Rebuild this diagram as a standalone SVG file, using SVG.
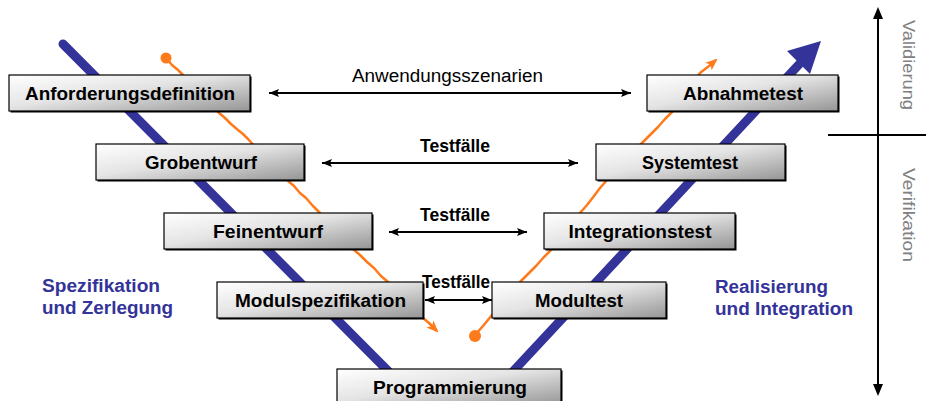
<svg xmlns="http://www.w3.org/2000/svg" width="926" height="401" viewBox="0 0 926 401">
<defs>
<linearGradient id="boxg" x1="0" y1="0" x2="1" y2="1">
<stop offset="0" stop-color="#ffffff"/>
<stop offset="0.45" stop-color="#e4e4e4"/>
<stop offset="1" stop-color="#959595"/>
</linearGradient>
<marker id="ah" viewBox="0 0 10 8" refX="10" refY="4" markerWidth="10" markerHeight="8" markerUnits="userSpaceOnUse" orient="auto-start-reverse">
<path d="M0,0 L10,4 L0,8 L2,4 z" fill="#000"/>
</marker>
<marker id="oah" viewBox="0 0 12 10" refX="10" refY="5" markerWidth="12" markerHeight="10" markerUnits="userSpaceOnUse" orient="auto">
<path d="M0,0 L12,5 L0,10 L3,5 z" fill="#ff7a1a"/>
</marker>
</defs>
<style>
.box{fill:url(#boxg);stroke:#000;stroke-width:1.2}
.shadow{fill:#000}
.lbl{font-family:"Liberation Sans",Arial,sans-serif;font-weight:bold;font-size:18px;fill:#000;text-anchor:middle}
.conn{stroke:#000;stroke-width:2;fill:none;marker-start:url(#ah);marker-end:url(#ah)}
.clbl{font-family:"Liberation Sans",Arial,sans-serif;font-size:18px;fill:#000;text-anchor:middle}
.tf{font-family:"Liberation Sans",Arial,sans-serif;font-weight:bold;font-size:19px;fill:#000;text-anchor:middle}
.blue{font-family:"Liberation Sans",Arial,sans-serif;font-weight:bold;font-size:18px;fill:#333399}
.side{font-family:"Liberation Sans",Arial,sans-serif;font-size:17px;fill:#808080}
.bl{stroke:#333399;stroke-width:9;fill:none;stroke-linecap:round}
.or{stroke:#ff7a1a;stroke-width:2.5;fill:none;stroke-linejoin:round}
</style>
<rect width="926" height="401" fill="#fff"/>

<g id="process-lines">
<path class="bl" d="M63,44 L402,385"/>
<path class="bl" d="M505,380 L805,58" stroke-linecap="butt"/>
<polygon points="821,41 787,51 810,74" fill="#333399"/>
<path class="or" marker-end="url(#oah)" d="M166,58 L172,65 L178,70 L185,77 L192,83 L198,91 L206,99 L212,104 L218,112 L225,118 L231,124 L238,130 L243,134 L248,139 L256,148 L262,153 L268,160 L275,167 L281,173 L287,180 L294,186 L300,193 L306,198 L313,206 L320,213 L326,219 L333,226 L340,234 L347,241 L353,249 L360,255 L367,262 L374,268 L381,276 L388,282 L395,289 L402,296 L409,303 L416,311 L423,318 L429,323 L437,331"/>
<circle cx="166" cy="58" r="5.5" fill="#ff7a1a"/>
<path class="or" marker-end="url(#oah)" d="M475,335 L483,326 L492,315 L499,307 L506,300 L513,290 L520,282 L528,274 L536,266 L544,257 L552,249 L559,240 L566,231 L573,222 L580,213 L587,205 L594,196 L600,188 L607,180 L615,171 L624,163 L633,152 L642,143 L650,135 L658,127 L665,119 L672,112 L679,102 L686,93 L693,83 L700,73 L709,66 L716,60"/>
<circle cx="475" cy="336" r="6" fill="#ff7a1a"/>
</g>

<g id="connectors">
<path class="conn" d="M269,93 H631"/>
<path class="conn" d="M322,163 H578"/>
<path class="conn" d="M389,232 H527"/>
<path class="conn" d="M425,300 H492"/>
<text class="clbl" x="447.5" y="82" textLength="191" lengthAdjust="spacingAndGlyphs">Anwendungsszenarien</text>
<text class="tf" x="455" y="152" textLength="70" lengthAdjust="spacingAndGlyphs">Testfälle</text>
<text class="tf" x="455" y="221" textLength="70" lengthAdjust="spacingAndGlyphs">Testfälle</text>
<text class="tf" x="456" y="288" textLength="68" lengthAdjust="spacingAndGlyphs">Testfälle</text>
</g>

<g id="anforderungsdefinition">
<rect class="shadow" x="10.5" y="76.5" width="241" height="36"/>
<rect class="box" x="9" y="75" width="241" height="36"/>
<text class="lbl" x="130" y="99.5" textLength="210" lengthAdjust="spacingAndGlyphs">Anforderungsdefinition</text>
</g>
<g id="grobentwurf">
<rect class="shadow" x="97.5" y="145.5" width="208" height="36"/>
<rect class="box" x="96" y="144" width="208" height="36"/>
<text class="lbl" x="201" y="168.5" textLength="112" lengthAdjust="spacingAndGlyphs">Grobentwurf</text>
</g>
<g id="feinentwurf">
<rect class="shadow" x="165.5" y="214.5" width="208" height="36"/>
<rect class="box" x="164" y="213" width="208" height="36"/>
<text class="lbl" x="268" y="237.5" textLength="110" lengthAdjust="spacingAndGlyphs">Feinentwurf</text>
</g>
<g id="modulspezifikation">
<rect class="shadow" x="218.5" y="283.5" width="206" height="36"/>
<rect class="box" x="217" y="282" width="206" height="36"/>
<text class="lbl" x="320.5" y="306.5" textLength="171" lengthAdjust="spacingAndGlyphs">Modulspezifikation</text>
</g>
<g id="programmierung">
<rect class="shadow" x="338.5" y="370.5" width="224" height="36"/>
<rect class="box" x="337" y="369" width="224" height="36"/>
<text class="lbl" x="450" y="393.5" textLength="154" lengthAdjust="spacingAndGlyphs">Programmierung</text>
</g>
<g id="modultest">
<rect class="shadow" x="493.5" y="283.5" width="174" height="36"/>
<rect class="box" x="492" y="282" width="174" height="36"/>
<text class="lbl" x="579" y="306.5" textLength="88" lengthAdjust="spacingAndGlyphs">Modultest</text>
</g>
<g id="integrationstest">
<rect class="shadow" x="545.5" y="214.5" width="191" height="36"/>
<rect class="box" x="544" y="213" width="191" height="36"/>
<text class="lbl" x="640" y="237.5" textLength="143" lengthAdjust="spacingAndGlyphs">Integrationstest</text>
</g>
<g id="systemtest">
<rect class="shadow" x="597.5" y="145.5" width="189" height="36"/>
<rect class="box" x="596" y="144" width="189" height="36"/>
<text class="lbl" x="690" y="168.5" textLength="96" lengthAdjust="spacingAndGlyphs">Systemtest</text>
</g>
<g id="abnahmetest">
<rect class="shadow" x="648.5" y="76.5" width="191" height="36"/>
<rect class="box" x="647" y="75" width="191" height="36"/>
<text class="lbl" x="743" y="99.5" textLength="120" lengthAdjust="spacingAndGlyphs">Abnahmetest</text>
</g>

<g id="phase-labels">
<text class="blue" x="42" y="292" textLength="118" lengthAdjust="spacingAndGlyphs">Spezifikation</text>
<text class="blue" x="42" y="314" textLength="131" lengthAdjust="spacingAndGlyphs">und Zerlegung</text>
<text class="blue" x="715" y="293" textLength="113" lengthAdjust="spacingAndGlyphs">Realisierung</text>
<text class="blue" x="715" y="315" textLength="138" lengthAdjust="spacingAndGlyphs">und Integration</text>
</g>

<g id="axis">
<path d="M878,18 V386" stroke="#000" stroke-width="2"/>
<polygon points="878,7 873,19 883,19" fill="#000"/>
<polygon points="878,396 873,384 883,384" fill="#000"/>
<path d="M828,135 H926" stroke="#000" stroke-width="2"/>
<text class="side" transform="translate(903,20) rotate(90)" textLength="90" lengthAdjust="spacingAndGlyphs">Validierung</text>
<text class="side" transform="translate(903,168) rotate(90)" textLength="94" lengthAdjust="spacingAndGlyphs">Verifikation</text>
</g>
</svg>
